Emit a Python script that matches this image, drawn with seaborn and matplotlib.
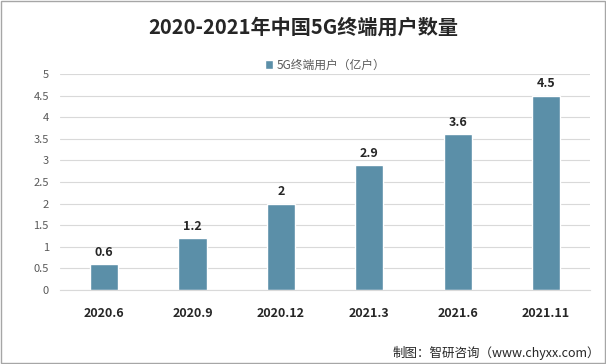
import seaborn as sns
import matplotlib.pyplot as plt
import pandas as pd

# 数据
periods = ['2020.6', '2020.9', '2020.12', '2021.3', '2021.6', '2021.11']
users = [0.6, 1.2, 2, 2.9, 3.6, 4.5]
yticks = [0, 0.5, 1, 1.5, 2, 2.5, 3, 3.5, 4, 4.5, 5]

df = pd.DataFrame({'期间': periods, '用户': users})

sns.set_style('white')
plt.rcParams['font.family'] = ['Noto Sans CJK SC', 'DejaVu Sans']

fig = plt.figure(figsize=(6.06, 3.64), dpi=100)
ax = fig.add_axes([0.099, 0.203, 0.875, 0.594])

bar_color = '#5b8fa8'
sns.barplot(data=df, x='期间', y='用户', color=bar_color, width=0.32,
            saturation=1, ax=ax, label='5G终端用户（亿户）')

ax.set_ylim(0, 5)
ax.set_xlim(-0.5, len(periods) - 0.5)
ax.set_yticks(yticks)
ax.set_yticklabels([f'{v:g}' for v in yticks], color='#595959', fontsize=8)
ax.yaxis.grid(True, color='#d9d9d9', linewidth=0.8)
ax.set_axisbelow(True)
ax.tick_params(axis='x', length=0, pad=12)
ax.tick_params(axis='y', length=0, pad=8)
for lbl in ax.get_xticklabels():
    lbl.set_fontweight('bold')
    lbl.set_fontsize(9)
    lbl.set_color('#262626')
ax.set_xlabel('')
ax.set_ylabel('')
for s in ['top', 'right', 'left']:
    ax.spines[s].set_visible(False)
ax.spines['bottom'].set_color('#d9d9d9')

# 数值标签
for i, v in enumerate(users):
    ax.text(i, v + 0.12, f'{v:g}', ha='center', va='bottom',
            fontsize=9, fontweight='bold', color='#262626')

ax.legend(loc='upper center', bbox_to_anchor=(0.5, 1.12), frameon=False,
          fontsize=8.5, handlelength=0.7, handleheight=0.7, handletextpad=0.3,
          labelcolor='#595959')

fig.text(0.5, 0.925, '2020-2021年中国5G终端用户数量', ha='center', va='center',
         fontsize=14.5, fontweight='bold', color='#262626')
fig.text(0.99, 0.03, '制图：智研咨询（www.chyxx.com）', ha='right', va='center',
         fontsize=9, color='#262626')

# 外框
fig.patches.append(plt.Rectangle((0.001, 0.002), 0.997, 0.995, transform=fig.transFigure,
                                 fill=False, edgecolor='#a6a6a6', linewidth=1))

fig.savefig('out.png', dpi=100)
